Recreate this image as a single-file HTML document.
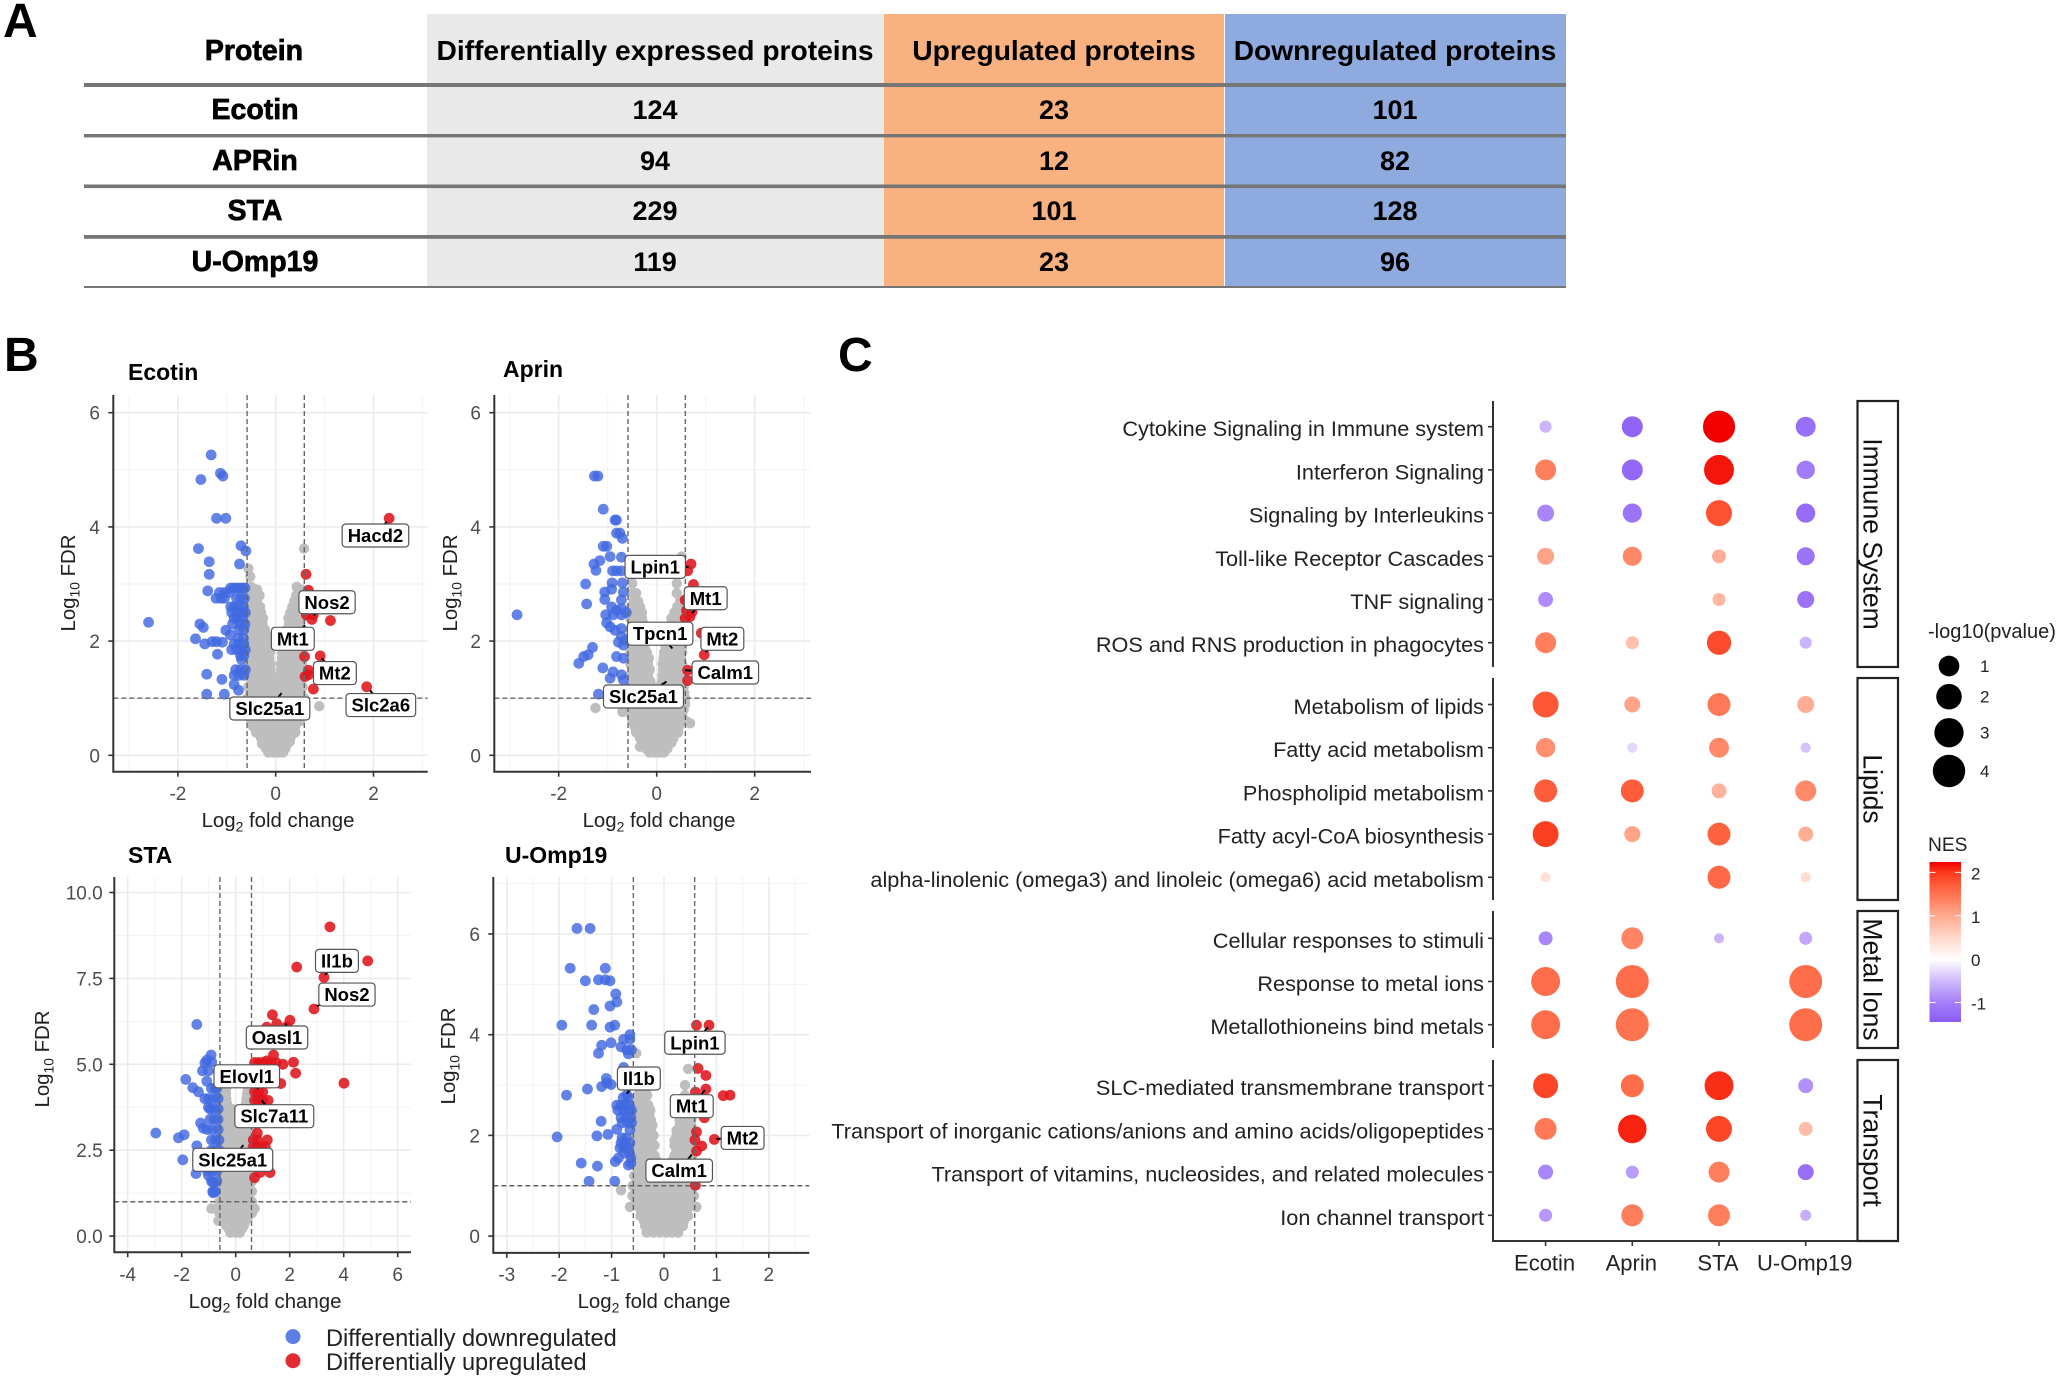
<!DOCTYPE html>
<html lang="en">
<head>
<meta charset="utf-8">
<title>Proteomics summary figure</title>
<style>
html,body{margin:0;padding:0;background:#fff;}
svg{display:block;font-family:"Liberation Sans",Arial,sans-serif;}
.cell{font-weight:bold;font-size:27px;fill:#000;text-anchor:middle;}
.head{font-size:28.2px;}
.first{font-size:28.5px;stroke:#000;stroke-width:.7px;}
.panel-letter{font-weight:bold;font-size:48px;fill:#000;}
</style>
</head>
<body>
<svg id="fig" width="2060" height="1377" viewBox="0 0 2060 1377" xmlns="http://www.w3.org/2000/svg">
<rect width="2060" height="1377" fill="#fff"/>
<text class="panel-letter" x="3" y="37">A</text>
<text class="panel-letter" x="4" y="371">B</text>
<text class="panel-letter" x="838" y="371">C</text>

<g>
<rect x="427" y="14" width="457" height="273" fill="#e9e9e9"/>
<rect x="884" y="14" width="340" height="273" fill="#f9b27f"/>
<rect x="1225" y="14" width="341" height="273" fill="#8eaade"/>
<rect x="84" y="83" width="1482" height="4" fill="#767676"/>
<rect x="84" y="134" width="1482" height="3.4" fill="#767676"/>
<rect x="84" y="184.5" width="1482" height="3.6" fill="#767676"/>
<rect x="84" y="235" width="1482" height="3.8" fill="#767676"/>
<rect x="84" y="286" width="1482" height="2" fill="#767676"/>
<text class="cell first" x="254" y="60">Protein</text>
<text class="cell head" x="655" y="60">Differentially expressed proteins</text>
<text class="cell head" x="1054" y="60">Upregulated proteins</text>
<text class="cell head" x="1395" y="60">Downregulated proteins</text>
<text class="cell first" x="255" y="119">Ecotin</text>
<text class="cell" x="655" y="119">124</text>
<text class="cell" x="1054" y="119">23</text>
<text class="cell" x="1395" y="119">101</text>
<text class="cell first" x="255" y="170">APRin</text>
<text class="cell" x="655" y="170">94</text>
<text class="cell" x="1054" y="170">12</text>
<text class="cell" x="1395" y="170">82</text>
<text class="cell first" x="255" y="220">STA</text>
<text class="cell" x="655" y="220">229</text>
<text class="cell" x="1054" y="220">101</text>
<text class="cell" x="1395" y="220">128</text>
<text class="cell first" x="255" y="271">U-Omp19</text>
<text class="cell" x="655" y="271">119</text>
<text class="cell" x="1054" y="271">23</text>
<text class="cell" x="1395" y="271">96</text>
</g>

<g font-size="23.6" fill="#222">
<circle cx="293" cy="1336.6" r="7.5" fill="#4169e1" fill-opacity=".85"/>
<circle cx="293" cy="1360.7" r="7.5" fill="#e0141c" fill-opacity=".9"/>
<text x="326" y="1346">Differentially downregulated</text>
<text x="326" y="1370">Differentially upregulated</text>
</g>

<g id="volcanoes"></g>
<g id="dotplot"></g>
</svg>

<script>
/* ---------- volcano data: [log2 fold change, log10 FDR] ---------- */
const ecotinBlue=[[-1.32,5.26],[-1.13,4.94],[-1.08,4.89],[-1.53,4.83],[-1.21,4.15],[-1.02,4.15],[-1.58,3.62],[-.71,3.67],[-.61,3.58],[-1.36,3.39],[-.74,3.35],[-1.36,3.17],[-1.39,2.88],[-2.6,2.33],[-1.55,2.3],[-1.48,2.24],[-1.64,2.04],[-1.45,1.95],[-1.3,1.99],[-1.21,1.99],[-1.09,1.98],[-1.19,1.77],[-1.41,1.42],[-1.1,1.33],[-1.41,1.07],[-1.05,1.07],[-.85,1.24],[-.76,1.14],[-1.02,2.19],[-.93,2.11],[-.92,2.93],[-.86,2.93],[-.8,2.93],[-.74,2.93],[-.68,2.93],[-.63,2.93],[-1.15,2.85],[-1.05,2.85],[-.95,2.85],[-1.22,2.75],[-1.12,2.75],[-1.05,2.75],[-.8,2.75],[-.72,2.75],[-.64,2.75],[-.92,2.6],[-.85,2.6],[-.75,2.6],[-.66,2.6],[-.9,2.5],[-.8,2.5],[-.7,2.5],[-.62,2.5],[-.85,2.4],[-.78,2.4],[-.68,2.4],[-.88,2.3],[-.72,2.3],[-.63,2.3],[-.75,2.2],[-.65,2.2],[-.76,2.05],[-.66,2.05],[-.85,1.95],[-.75,1.95],[-.65,1.95],[-.9,1.85],[-.8,1.85],[-.7,1.85],[-.62,1.85],[-.72,1.75],[-.65,1.75],[-.7,1.68],[-.82,1.5],[-.72,1.5],[-.62,1.5],[-.85,1.4],[-.75,1.4],[-.65,1.4]];
const ecotinRed=[[2.32,4.15],[.62,3.17],[.67,2.89],[1.12,2.36],[.77,2.46],[.74,2.38],[.63,2.46],[.59,1.73],[.91,1.74],[.67,1.49],[.67,1.41],[.6,1.38],[.77,1.16],[1.86,1.2]];
const ecotinGray=[[3.62,[.58]],[3.27,[-.56]],[3.13,[-.52]],[2.95,[-.5,.43]],[2.9,[-.48,-.38,.46,.54]],[2.8,[-.55,-.42,-.33,.42,.52]],[2.7,[-.5,-.38,.38,.48]],[2.6,[-.55,-.44,-.32,.34,.44,.54]],[2.5,[-.5,-.38,-.3,.3,.4,.5]],[2.4,[-.55,-.44,-.33,-.26,.26,.34,.44,.54]],[2.3,[-.5,-.38,-.27,.27,.38,.5]],[2.2,[-.55,-.44,-.33,-.22,.22,.33,.44,.54]],[2.1,[-.5,-.38,-.27,-.18,.18,.28,.38,.5]],[2,[-.55,-.44,-.33,-.22,-.14,.15,.24,.34,.44,.54]],[1.9,[-.5,-.38,-.27,-.14,.14,.28,.38,.5]],[1.8,[-.55,-.44,-.33,-.22,-.12,.13,.24,.34,.44,.54]],[1.7,[-.5,-.38,-.27,-.13,.13,.28,.38,.5]],[1.6,[-.55,-.44,-.33,-.22,-.1,.11,.24,.34,.44,.54]],[1.5,[-.5,-.38,-.27,-.11,.11,.28,.38,.5]],[1.4,[-.55,-.44,-.33,-.22,-.08,.09,.24,.34,.44,.54]],[1.3,[-.5,-.38,-.27,-.15,-.08,.08,.15,.28,.38,.5]],[1.2,[-.56,-.44,-.33,-.2,-.06,.07,.2,.33,.44,.55]],[1.1,[-.52,-.4,-.28,-.17,-.06,.06,.17,.28,.4,.52]],[1,[-.58,-.46,-.35,-.23,-.12,0,.12,.23,.35,.46,.58]],[.9,[-.5,-.38,-.27,-.16,-.06,.06,.16,.27,.38,.5]],[.86,[.89]],[.8,[-.55,-.44,-.33,-.22,-.11,0,.11,.22,.33,.44,.55]],[.7,[-.5,-.38,-.26,-.13,0,.13,.26,.38,.5]],[.6,[-.5,-.38,-.26,-.13,0,.13,.26,.38,.5]],[.5,[-.46,-.4,-.26,-.13,0,.13,.26,.4]],[.4,[-.4,-.27,-.14,0,.14,.27,.4]],[.3,[-.3,-.16,0,.16,.3]],[.24,[.29]],[.2,[-.28,-.14,0,.14,.24]],[.12,[-.2,-.07,.07,.2]],[.05,[-.15,-.05,.05,.15]]];
const ecotinLabels=[["Hacd2",2.04,3.85,2.27,4.09],["Nos2",1.05,2.68,.78,2.45],["Mt1",.35,2.04,.6,2.28],["Mt2",1.21,1.44,.94,1.7],["Slc2a6",2.15,.88,1.93,1.14],["Slc25a1",-.12,.82,.12,1.09]];

const aprinBlue=[[-1.27,4.89],[-1.2,4.89],[-1.09,4.31],[-.85,4.12],[-.82,4.12],[-.82,3.89],[-.75,3.89],[-.7,3.8],[-1.09,3.66],[-1.02,3.66],[-.95,3.48],[-.72,3.47],[-1.16,3.41],[-1.28,3.35],[-1.24,3.24],[-.9,3.23],[-.82,3.23],[-.72,3.23],[-1.45,3],[-.91,3.02],[-.7,3.02],[-1.06,2.86],[-.92,2.91],[-.68,2.86],[-1.06,2.73],[-.72,2.72],[-1.43,2.65],[-.92,2.6],[-.82,2.54],[-.72,2.57],[-2.85,2.46],[-1.04,2.46],[-.72,2.46],[-.89,2.46],[-.95,2.25],[-.85,2.19],[-.72,2.22],[-.72,2.08],[-.68,1.93],[-1.31,1.89],[-1.4,1.76],[-1.49,1.73],[-1.59,1.61],[-.82,1.73],[-.68,1.7],[-1.1,1.53],[-.89,1.46],[-.72,1.41],[-.95,1.35],[-.68,1.32],[-1.19,1.07],[-1.02,2.32],[-.62,2.5],[-.78,1.98],[-.62,2.02]];
const aprinRed=[[.7,3.35],[.63,3.23],[.75,2.99],[.58,2.72],[.61,2.54],[.72,2.51],[.58,2.4],[.68,2.43],[.91,2.14],[.97,1.76],[.63,1.49],[.63,1.31]];
const aprinGray=[[3.48,[.51]],[3.18,[.48]],[3.01,[-.5,.41]],[2.84,[-.5,-.42,.41]],[2.7,[-.47,-.38,.48]],[2.6,[-.52,-.42,-.34,.42,.52]],[2.5,[-.48,-.38,-.3,.36,.47]],[2.4,[-.54,-.42,-.3,.3,.42,.52]],[2.3,[-.48,-.36,-.26,.3,.42,.5]],[2.2,[-.54,-.42,-.3,.25,.36,.46,.54]],[2.1,[-.48,-.36,-.25,.24,.36,.5]],[2,[-.54,-.42,-.3,-.2,.2,.3,.42,.52]],[1.9,[-.48,-.36,-.25,.18,.3,.42,.52]],[1.8,[-.54,-.42,-.3,-.2,.15,.28,.4,.52]],[1.7,[-.48,-.36,-.25,-.16,.14,.26,.38,.5]],[1.6,[-.54,-.42,-.3,-.18,.12,.25,.38,.52]],[1.5,[-.48,-.36,-.25,-.14,.13,.26,.38,.5]],[1.4,[-.54,-.42,-.3,-.18,.12,.25,.38,.52]],[1.3,[-.48,-.36,-.25,-.13,.11,.24,.36,.5]],[1.2,[-.56,-.44,-.32,-.2,-.08,.05,.18,.3,.42,.55]],[1.1,[-.5,-.38,-.26,-.14,-.02,.1,.22,.34,.46,.56]],[1,[-.58,-.46,-.35,-.23,-.12,0,.12,.23,.35,.46,.58]],[.9,[-.5,-.38,-.26,-.14,-.02,.1,.22,.34,.46,.58]],[.83,[-1.25]],[.8,[-.55,-.44,-.33,-.22,-.11,0,.11,.22,.33,.44,.55]],[.76,[-.7]],[.7,[-.52,-.4,-.26,-.13,0,.13,.26,.4,.52]],[.6,[-.5,-.38,-.26,-.13,0,.13,.26,.38,.5,.6]],[.56,[.68]],[.5,[-.45,-.3,-.16,0,.16,.3,.45]],[.4,[-.42,-.28,-.14,0,.14,.28,.44]],[.3,[-.34,-.2,-.07,.07,.2,.34]],[.22,[-.3,-.15,0,.15,.3]],[.15,[-.34]],[.12,[-.22,-.08,.08,.22]],[.05,[-.15,-.05,.05,.15]]];
const aprinLabels=[["Lpin1",-.03,3.3,.65,3.3],["Mt1",1,2.75,.72,2.49],["Tpcn1",.07,2.13,.32,1.87],["Mt2",1.34,2.04,1,1.81],["Calm1",1.4,1.45,.58,1.49],["Slc25a1",-.27,1.03,.2,1.29]];

const staBlue=[[-1.44,6.16],[-.91,5.27],[-1.07,5.12],[-1.14,5.04],[-.89,5.07],[-1.23,4.81],[-1.01,4.81],[-1.85,4.56],[-1.59,4.32],[-1.38,4.2],[-1.07,4.51],[-1.14,4],[-.77,4.3],[-1.01,3.75],[-1.3,3.29],[-1.2,3.14],[-2.96,3],[-1.91,2.95],[-2.12,2.86],[-1.44,2.63],[-1.96,2.22],[-1.47,1.82],[-1.01,1.77],[-.83,1.26],[-.83,1.56],[-.9,4.3],[-.7,4.3],[-1,4],[-.8,4],[-.65,4],[-.95,3.7],[-.8,3.7],[-.65,3.7],[-.95,3.4],[-.8,3.4],[-.65,3.4],[-1.05,3.1],[-.85,3.1],[-.65,3.1],[-.9,2.8],[-.75,2.8],[-.62,2.8],[-.9,2.5],[-.75,2.5],[-.62,2.5],[-.85,2.2],[-.7,2.2],[-1.05,1.9],[-.85,1.9],[-.7,1.9],[-.9,1.6],[-.7,1.6],[-.85,1.3],[-.75,1.3]];
const staRed=[[3.49,9],[4.89,8.01],[2.26,7.83],[3.27,7.53],[2.9,6.61],[1.36,6.44],[2.01,6.28],[1.52,6.18],[1.15,6.08],[1.89,6.1],[1.4,5.27],[.7,5.05],[.85,5.05],[1,5.05],[1.15,5.1],[1.3,5.05],[1.5,5.05],[1.75,5],[2.14,5.06],[2.22,4.74],[4.01,4.45],[1.67,4.44],[1.27,4.81],[.75,4.7],[.95,4.7],[1.15,4.7],[1.3,4.7],[.8,4.45],[1,4.45],[1.25,4.45],[.7,4.2],[.85,4.2],[1,4.2],[.7,3.95],[.85,3.95],[1,3.95],[1.2,3.95],[.65,3.7],[.85,3.7],[.7,3.3],[.8,3],[.65,2.8],[.8,2.8],[1.17,2.8],[.65,2.6],[.8,2.6],[.95,2.6],[1.1,2.6],[.7,2.4],[.9,2.4],[.7,2.1],[.9,1.85],[1.27,1.85],[.7,1.7]];
const staGray=[[4.3,[-.5,-.35,.45,.55]],[4.15,[-.48,-.36,.42,.54]],[4,[-.5,-.35,.4,.55]],[3.85,[-.48,-.32,.38,.52]],[3.7,[-.5,-.3,-.15,.3,.5]],[3.55,[-.48,-.28,-.12,.28,.48]],[3.4,[-.5,-.3,-.1,.25,.45]],[3.25,[-.48,-.28,-.12,.22,.42]],[3.1,[-.5,-.3,-.1,.2,.4,.55]],[2.95,[-.48,-.28,-.1,.18,.36,.52]],[2.8,[-.5,-.3,-.1,.15,.3,.5]],[2.65,[-.45,-.25,-.08,.12,.28,.46]],[2.5,[-.5,-.3,-.1,.05,.2,.4,.55]],[2.35,[-.45,-.25,-.05,.15,.35,.52]],[2.2,[-.55,-.35,-.15,.05,.25,.45,.6]],[2.05,[-.5,-.3,-.1,.1,.3,.5]],[1.9,[-.6,-.4,-.2,0,.2,.4,.6]],[1.75,[-.5,-.3,-.1,.1,.3,.5]],[1.6,[-.6,-.4,-.2,0,.2,.4,.6]],[1.45,[-.5,-.3,-.1,.1,.3,.5]],[1.3,[-.6,-.4,-.2,0,.2,.4,.6]],[1.15,[-.5,-.3,-.1,.1,.3,.5]],[1,[-.6,-.4,-.2,0,.2,.4,.6]],[.9,[-.5,-.3,-.1,.1,.3,.5]],[.8,[-.9,-.7,-.5,-.3,-.1,.1,.3,.5,.7]],[.67,[-.6,-.4,-.2,0,.2,.4,.6]],[.55,[-.55,-.35,-.15,.05,.25,.45]],[.45,[-.64]],[.42,[-.45,-.25,-.05,.15,.35]],[.3,[-.35,-.15,.05,.3]],[.2,[-.25,-.1,.1,.22]],[.1,[-.2,0,.15]]];
const staLabels=[["Il1b",3.75,8.01,3.31,7.6],["Nos2",4.12,7.03,3,6.69],["Oasl1",1.53,5.78,1.89,6.18],["Elovl1",.41,4.65,.84,4.28],["Slc7a11",1.43,3.49,.96,3.95],["Slc25a1",-.11,2.22,.28,2.65]];

const ompBlue=[[-1.66,6.11],[-1.41,6.11],[-1.79,5.32],[-1.12,5.32],[-1.5,5.07],[-1.25,5.09],[-1.12,5.09],[-1.03,5.07],[-.92,4.81],[-.9,4.65],[-1.03,4.57],[-1.34,4.5],[-1.95,4.19],[-1.38,4.19],[-1.03,4.15],[-.94,4.19],[-.65,4],[-.77,3.91],[-.65,3.91],[-1.19,3.79],[-1.01,3.84],[-.82,3.76],[-.71,3.7],[-.62,3.7],[-1.25,3.63],[-.68,3.62],[-.77,3.35],[-1.1,3.13],[-1.19,2.97],[-1.09,3.04],[-1.01,3.01],[-1.46,2.92],[-1.86,2.8],[-.77,3.08],[-.71,2.8],[-1.2,2.28],[-.9,2.12],[-1.28,1.99],[-1.07,2.02],[-2.04,1.97],[-.65,2.11],[-.93,1.48],[-.87,1.55],[-1.58,1.45],[-1.27,1.39],[-.68,1.41],[-.63,1.45],[-1.43,1.09],[-.94,1.09],[-.78,2.75],[-.68,2.75],[-.9,2.6],[-.82,2.6],[-.74,2.6],[-.66,2.6],[-.88,2.5],[-.78,2.5],[-.68,2.5],[-.62,2.5],[-.82,2.35],[-.72,2.35],[-.63,2.35],[-.8,2.25],[-.7,2.25],[-.62,2.25],[-.8,1.95],[-.72,1.95],[-.82,1.85],[-.74,1.85],[-.65,1.85],[-.84,1.75],[-.76,1.75],[-.68,1.75],[-.76,1.65],[-.66,1.65],[-.63,1.55]];
const ompRed=[[.62,4.19],[.86,4.19],[.65,3.33],[.8,3.19],[.8,2.92],[.6,2.86],[1.13,2.79],[1.26,2.8],[.77,2.35],[.62,2.07],[.59,1.91],[.96,1.92],[.72,1.79],[.62,1.69],[.6,1.01]];
const ompGray=[[3.63,[-.53]],[3.32,[.46]],[3,[-.55,.4]],[2.9,[-.45,-.36]],[2.8,[-.5,-.4,-.32,.4]],[2.7,[-.48,-.36,.42]],[2.6,[-.55,-.42,-.3,.4,.5]],[2.5,[-.48,-.36,-.26,.42,.52]],[2.4,[-.55,-.42,-.28,.36,.46,.54]],[2.3,[-.48,-.36,-.25,.3,.42,.52]],[2.2,[-.55,-.42,-.3,-.22,.3,.42,.52]],[2.1,[-.48,-.36,-.25,.24,.36,.5]],[2,[-.55,-.42,-.3,-.2,.24,.36,.46,.54]],[1.9,[-.48,-.36,-.24,.2,.3,.42,.52]],[1.8,[-.55,-.42,-.3,-.18,.2,.32,.44,.54]],[1.7,[-.48,-.36,-.24,.24,.36,.5]],[1.6,[-.55,-.42,-.3,-.18,.2,.32,.44,.54]],[1.5,[-.48,-.36,-.24,-.14,.16,.26,.38,.5]],[1.4,[-.56,-.42,-.3,-.18,.17,.3,.42,.54]],[1.3,[-.48,-.36,-.24,-.13,.13,.24,.36,.5]],[1.2,[-.57,-.44,-.3,-.15,.15,.28,.4,.54]],[1.1,[-.52,-.38,-.24,-.1,.1,.22,.34,.48,.56]],[1,[-.6,-.47,-.34,-.21,-.08,.05,.18,.31,.44,.58]],[.91,[-.82]],[.9,[-.54,-.4,-.28,-.14,0,.12,.24,.38,.5]],[.8,[-.6,-.47,-.34,-.21,-.08,.05,.18,.31,.44,.57]],[.7,[-.54,-.4,-.28,-.14,0,.12,.24,.38,.5]],[.6,[-.5,-.38,-.25,-.12,0,.12,.25,.38,.5]],[.58,[-.65,.62]],[.5,[-.44,-.32,-.18,-.06,.06,.18,.32,.44]],[.4,[-.45,-.32,-.2,-.07,.07,.2,.32,.46]],[.3,[-.38,-.26,-.13,0,.13,.26,.38]],[.2,[-.36,-.24,-.12,0,.12,.24,.36]],[.13,[-.26,-.14,-.02,.1,.22]],[.07,[-.33,-.2,-.08,.05,.15,.27]]];
const ompLabels=[["Lpin1",.59,3.84,.84,4.15],["Il1b",-.48,3.13,-.71,2.83],["Mt1",.53,2.58,.78,2.9],["Mt2",1.5,1.95,1,1.93],["Calm1",.29,1.3,.53,1.62]];

const NS='http://www.w3.org/2000/svg';
function mk(tag,attrs,parent,txt){
  const e=document.createElementNS(NS,tag);
  for(const k in attrs)e.setAttribute(k,attrs[k]);
  if(txt!==undefined)e.textContent=txt;
  parent.appendChild(e);
  return e;
}

function subTitle(parent,attrs,a,sub,b){
  const t=mk('text',attrs,parent);
  const fs=parseFloat(attrs['font-size']);
  mk('tspan',{},t,a);
  mk('tspan',{dy:fs*.22,'font-size':fs*.68},t,sub);
  mk('tspan',{dy:-fs*.22},t,b);
  return t;
}

function drawVolcano(p){
  const root=document.getElementById('volcanoes');
  const g=mk('g',{},root);
  
  
  const X=v=>p.x0+v*p.xu, Y=v=>p.y0-v*p.yu;

  const xStep=p.xTicks[1]-p.xTicks[0], yStep=p.yTicks[1]-p.yTicks[0];
  for(let m=p.xTicks[0]-xStep/2;X(m)<p.right;m+=xStep){
    if(X(m)<=p.left)continue;
    const l=mk('line',{x1:X(m),x2:X(m),y1:p.top,y2:p.bottom,stroke:'#f3f3f3','stroke-width':1},g);
    
    
  }
  for(let m=p.yTicks[0]+yStep/2;Y(m)>p.top;m+=yStep){
    const l=mk('line',{x1:p.left,x2:p.right,y1:Y(m),y2:Y(m),stroke:'#f3f3f3','stroke-width':1},g);
    
    
  }
  p.xTicks.forEach((t,i)=>{
    const l=mk('line',{x1:X(t),x2:X(t),y1:p.top,y2:p.bottom,stroke:'#ebebeb','stroke-width':1.6},g);
    
    
    const k=mk('line',{x1:X(t),x2:X(t),y1:p.bottom,y2:p.bottom+5,stroke:'#333','stroke-width':1.6},g);
    
    
    const s=mk('text',{x:X(t),y:p.xTickY,'text-anchor':'middle','font-size':19,fill:'#4d4d4d'},g,p.xTickLabels[i]);
    
    
  });
  p.yTicks.forEach((t,i)=>{
    const l=mk('line',{x1:p.left,x2:p.right,y1:Y(t),y2:Y(t),stroke:'#ebebeb','stroke-width':1.6},g);
    
    
    const k=mk('line',{x1:p.left-5,x2:p.left,y1:Y(t),y2:Y(t),stroke:'#333','stroke-width':1.6},g);
    
    
    const s=mk('text',{x:p.tickRight,y:Y(t)+7,'text-anchor':'end','font-size':19,fill:'#4d4d4d'},g,p.yTickLabels[i]);
    
    
  });

  p.gray.forEach(row=>row[1].forEach(fc=>{
    const c=mk('circle',{cx:X(fc),cy:Y(row[0]),r:5.2,fill:'#bebebe'},g);
    
    
  }));
  p.blue.forEach(d=>{
    const c=mk('circle',{cx:X(d[0]),cy:Y(d[1]),r:5.4,fill:'#4169e1','fill-opacity':.82},g);
    
    
  });
  p.red.forEach(d=>{
    const c=mk('circle',{cx:X(d[0]),cy:Y(d[1]),r:5.4,fill:'#e0141c','fill-opacity':.88},g);
    
    
  });

  [-p.fcCut,p.fcCut].forEach(v=>{
    const l=mk('line',{x1:X(v),x2:X(v),y1:p.top,y2:p.bottom,stroke:'#666','stroke-width':1.4,'stroke-dasharray':'5 3'},g);
    
    
  });
  const h=mk('line',{x1:p.left,x2:p.right,y1:Y(p.fdrCut),y2:Y(p.fdrCut),stroke:'#666','stroke-width':1.4,'stroke-dasharray':'5 3'},g);
  
  

  const ax=mk('path',{d:`M${p.left} ${p.top}V${p.bottom}H${p.right}`,fill:'none',stroke:'#333','stroke-width':2},g);
  
  

  p.labels.forEach(d=>{
    const cx=X(d[1]),cy=Y(d[2]),tx=X(d[3]),ty=Y(d[4]);
    const lead=mk('line',{x1:cx,y1:cy,x2:tx,y2:ty,stroke:'#000','stroke-width':2},g);
    
    
    const box=mk('rect',{rx:3.5,ry:3.5,fill:'#fff',stroke:'#555','stroke-width':1.2},g);
    
    
    const t=mk('text',{x:cx,y:cy+6.5,'text-anchor':'middle','font-size':18.5,'font-weight':'bold',fill:'#000'},g,d[0]);
    
    
    const w=t.getComputedTextLength()+11;
    box.setAttribute('x',cx-w/2);box.setAttribute('y',cy-11.5);
    box.setAttribute('width',w);box.setAttribute('height',23);
  });

  const ti=mk('text',{x:p.titleX,y:p.titleY,'font-size':23,'font-weight':'bold',fill:'#000'},g,p.title);
  
  
  const xt=subTitle(g,{x:p.xTitleX,y:p.xTitleY,'text-anchor':'middle','font-size':20.4,fill:'#222'},'Log','2',' fold change');
  
  
  const yt=subTitle(g,{transform:`translate(${p.yTitleX},${p.yTitleY}) rotate(-90)`,'text-anchor':'middle','font-size':20.4,fill:'#222'},'Log','10',' FDR');
  
  
}

const ticksSix=[0,2,4,6], ticksSixLabels=['0','2','4','6'];
drawVolcano({key:'ecotin',title:'Ecotin',titleX:128,titleY:380,left:113.3,right:427.7,top:395,bottom:771.7,x0:275.7,xu:48.9,y0:755.3,yu:57.1,
  xTicks:[-2,0,2],xTickLabels:['-2','0','2'],yTicks:ticksSix,yTickLabels:ticksSixLabels,tickRight:100,xTickY:800,
  xTitleX:278,xTitleY:827,yTitleX:75,yTitleY:583,fcCut:.585,fdrCut:1,gray:ecotinGray,blue:ecotinBlue,red:ecotinRed,labels:ecotinLabels});
drawVolcano({key:'aprin',title:'Aprin',titleX:503,titleY:377,left:494.3,right:811,top:395,bottom:771.7,x0:656.7,xu:49,y0:755.3,yu:57.1,
  xTicks:[-2,0,2],xTickLabels:['-2','0','2'],yTicks:ticksSix,yTickLabels:ticksSixLabels,tickRight:481,xTickY:800,
  xTitleX:659,xTitleY:827,yTitleX:457,yTitleY:583,fcCut:.585,fdrCut:1,gray:aprinGray,blue:aprinBlue,red:aprinRed,labels:aprinLabels});
drawVolcano({key:'sta',title:'STA',titleX:128,titleY:863,left:114.3,right:411,top:877,bottom:1252.2,x0:235.7,xu:27,y0:1236.1,yu:34.36,
  xTicks:[-4,-2,0,2,4,6],xTickLabels:['-4','-2','0','2','4','6'],yTicks:[0,2.5,5,7.5,10],yTickLabels:['0.0','2.5','5.0','7.5','10.0'],tickRight:102.7,xTickY:1281,
  xTitleX:265,xTitleY:1308,yTitleX:49,yTitleY:1059,fcCut:.585,fdrCut:1,gray:staGray,blue:staBlue,red:staRed,labels:staLabels});
drawVolcano({key:'u-omp19',title:'U-Omp19',titleX:505,titleY:863,left:493.3,right:809.3,top:877,bottom:1252.9,x0:664,xu:52.4,y0:1236.1,yu:50.35,
  xTicks:[-3,-2,-1,0,1,2],xTickLabels:['-3','-2','-1','0','1','2'],yTicks:ticksSix,yTickLabels:ticksSixLabels,tickRight:480,xTickY:1281,
  xTitleX:654,xTitleY:1308,yTitleX:455,yTitleY:1056,fcCut:.585,fdrCut:1,gray:ompGray,blue:ompBlue,red:ompRed,labels:ompLabels});

/* ---------- enrichment dot plot data ---------- */
const dotColumns=['Ecotin','Aprin','STA','U-Omp19'];
const dotGroups=['Immune System','Lipids','Metal Ions','Transport'];
const dotGroupSizes=[6,5,3,4];
const dotRows=['Cytokine Signaling in Immune system','Interferon Signaling','Signaling by Interleukins','Toll-like Receptor Cascades','TNF signaling','ROS and RNS production in phagocytes','Metabolism of lipids','Fatty acid metabolism','Phospholipid metabolism','Fatty acyl-CoA biosynthesis','alpha-linolenic (omega3) and linoleic (omega6) acid metabolism','Cellular responses to stimuli','Response to metal ions','Metallothioneins bind metals','SLC-mediated transmembrane transport','Transport of inorganic cations/anions and amino acids/oligopeptides','Transport of vitamins, nucleosides, and related molecules','Ion channel transport'];
const nesValues=[[-.55,-1.35,2.24,-1.2],[1.4,-1.3,2.15,-1.05],[-.95,-1.15,1.8,-1.25],[1.05,1.3,.95,-1.15],[-.9,null,.85,-1.15],[1.4,.75,1.85,-.55],[1.75,1.05,1.45,.95],[1.25,-.3,1.3,-.45],[1.7,1.7,.9,1.3],[1.95,1.05,1.65,.95],[.4,null,1.6,.45],[-.95,1.35,-.55,-.65],[1.55,1.55,null,1.55],[1.55,1.5,null,1.55],[1.9,1.55,2.05,-.85],[1.45,2.1,1.9,.8],[-.95,-.75,1.4,-1.2],[-.8,1.4,1.4,-.6]];
const pvalueValues=[[.07,1.05,3.9,.88],[1.05,1.05,3.2,.65],[.47,.75,2.1,.75],[.47,.75,.18,.6],[.26,null,.12,.47],[1.05,.12,1.7,.07],[2.1,.36,1.43,.47],[.78,.01,.88,.01],[1.43,1.43,.26,1.05],[2.1,.36,1.43,.26],[.01,null,1.43,.01],[.18,1.23,.01,.12],[2.9,4.2,null,4.2],[2.9,4.2,null,4.2],[1.87,1.43,2.9,.26],[1.23,2.8,2.1,.18],[.26,.12,1.05,.36],[.12,1.23,1.23,.03]];
const sizeLegendValues=[1,2,3,4];
const nesTicks=[2,1,0,-1];
const nesStops=[-1.45,-1,-.5,0,.5,1,1.5,2,2.24];
const nesStopColors=['#8a5cf6','#a47ff8','#d0bafb','#ffffff','#ffd8cb','#ffa98f','#ff7450','#fb3a1c','#f20000'];

function hex(c){return [1,3,5].map(i=>parseInt(c.substr(i,2),16));}
function nesColor(v){
  if(v<=nesStops[0])return nesStopColors[0];
  for(let i=1;i<nesStops.length;i++){
    if(v<=nesStops[i]){
      const t=(v-nesStops[i-1])/(nesStops[i]-nesStops[i-1]);
      const a=hex(nesStopColors[i-1]),b=hex(nesStopColors[i]);
      return 'rgb('+a.map((q,j)=>Math.round(q+(b[j]-q)*t)).join(',')+')';
    }
  }
  return nesStopColors[nesStopColors.length-1];
}
const dotDiameter=v=>9+11.7*Math.sqrt(v);

(function(){
  const g=document.getElementById('dotplot');
  const groupFirstY=[426.7,704.5,938.3,1085.7],groupTop=[401,678,911,1060],groupBottom=[667,900,1048,1241];
  const colX=i=>1545.6+86.7*i, rowStep=43.2, axisX=1493, stripL=1857.5, stripR=1898;
  let r=0;
  dotGroups.forEach((name,gi)=>{
    const ln=mk('line',{x1:axisX,x2:axisX,y1:groupTop[gi],y2:groupBottom[gi],stroke:'#333','stroke-width':2},g);
    
    
    const st=mk('rect',{x:stripL,y:groupTop[gi],width:stripR-stripL,height:groupBottom[gi]-groupTop[gi],fill:'#fff',stroke:'#222','stroke-width':2.2},g);
    
    
    const cy=(groupTop[gi]+groupBottom[gi])/2;
    const tx=mk('text',{transform:`translate(1863.5,${cy}) rotate(90)`,'text-anchor':'middle','font-size':26.5,fill:'#111'},g,name);
    
    
    for(let k=0;k<dotGroupSizes[gi];k++,r++){
      const y=groupFirstY[gi]+k*rowStep;
      const tk=mk('line',{x1:axisX-5,x2:axisX,y1:y,y2:y,stroke:'#333','stroke-width':1.6},g);
      
      
      const lb=mk('text',{x:1484,y:y+9.5,'text-anchor':'end','font-size':21.7,fill:'#222'},g,dotRows[r]);
      
      
      dotColumns.forEach((c,ci)=>{
        if(nesValues[r][ci]===null)return;
        const dot=mk('circle',{cx:colX(ci),cy:y,r:dotDiameter(pvalueValues[r][ci])/2,fill:nesColor(nesValues[r][ci])},g);
        
        
      });
    }
  });
  const base=mk('line',{x1:axisX-1,x2:stripL,y1:1241,y2:1241,stroke:'#333','stroke-width':2},g);
  
  
  dotColumns.forEach((c,ci)=>{
    const tk=mk('line',{x1:colX(ci),x2:colX(ci),y1:1241,y2:1246,stroke:'#333','stroke-width':1.6},g);
    
    
    const t=mk('text',{x:colX(ci)-1,y:1270.7,'text-anchor':'middle','font-size':22,fill:'#222'},g,c);
    
    
  });

  const st=mk('text',{x:1928,y:638,'font-size':20,fill:'#222'},g,'-log10(pvalue)');
  
  
  const legY=[666,696.7,732.7,771];
  sizeLegendValues.forEach((v,i)=>{
    const c=mk('circle',{cx:1949,cy:legY[i],r:dotDiameter(v)/2,fill:'#000'},g);
    
    
    const t=mk('text',{x:1980,y:legY[i]+6,'font-size':17,fill:'#222'},g,String(v));
    
    
  });

  const nt=mk('text',{x:1928,y:851,'font-size':19.2,fill:'#222'},g,'NES');
  
  
  const defs=mk('defs',{},g);
  const lg=mk('linearGradient',{id:'nesGrad',x1:0,y1:1,x2:0,y2:0},defs);
  const vMin=nesStops[0],vMax=nesStops[nesStops.length-1];
  nesStops.forEach((s,i)=>mk('stop',{offset:(s-vMin)/(vMax-vMin),'stop-color':nesStopColors[i]},lg));
  const barTop=862,barBottom=1022;
  const bar=mk('rect',{x:1929.5,y:barTop,width:31.5,height:barBottom-barTop,fill:'url(#nesGrad)'},g);
  
  
  const nesY=v=>barBottom-(v-vMin)/(vMax-vMin)*(barBottom-barTop);
  nesTicks.forEach(v=>{
    const a=mk('line',{x1:1929.5,x2:1935.5,y1:nesY(v),y2:nesY(v),stroke:'#fff','stroke-width':1},g);
    
    
    const b=mk('line',{x1:1955,x2:1961,y1:nesY(v),y2:nesY(v),stroke:'#fff','stroke-width':1},g);
    
    
    const t=mk('text',{x:1971,y:nesY(v)+7,'font-size':17,fill:'#222'},g,String(v));
    
    
  });
})();
</script>
</body>
</html>
